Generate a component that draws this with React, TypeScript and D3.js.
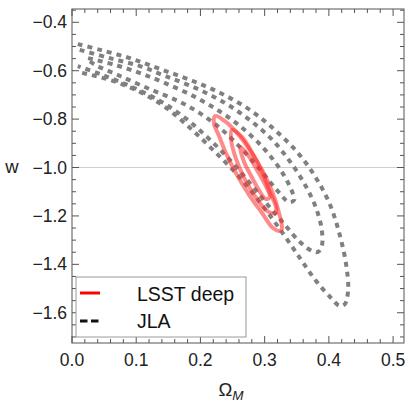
import React from "react";
import * as d3 from "d3";

type P = [number, number];

// JLA contours (open at left edge), ordered upper edge -> tip -> lower edge
const jla3: P[] = [
  [0.009,-0.490],[0.044,-0.514],[0.090,-0.548],[0.137,-0.593],[0.184,-0.638],[0.231,-0.692],[0.277,-0.762],[0.316,-0.845],[0.352,-0.940],[0.380,-1.043],[0.402,-1.155],[0.417,-1.279],[0.427,-1.403],[0.430,-1.506],[0.425,-1.564],
  [0.417,-1.572],[0.402,-1.535],[0.379,-1.465],[0.355,-1.374],[0.327,-1.267],[0.296,-1.155],[0.262,-1.043],[0.223,-0.936],[0.184,-0.837],[0.145,-0.750],[0.106,-0.688],[0.059,-0.638],[0.009,-0.605],
];
const jla2: P[] = [
  [0.012,-0.514],[0.059,-0.548],[0.106,-0.581],[0.145,-0.622],[0.192,-0.671],[0.238,-0.733],[0.277,-0.804],[0.312,-0.886],[0.340,-0.977],[0.363,-1.072],[0.380,-1.167],[0.389,-1.258],[0.389,-1.324],[0.383,-1.349],
  [0.374,-1.345],[0.355,-1.308],[0.332,-1.238],[0.305,-1.155],[0.277,-1.064],[0.246,-0.969],[0.212,-0.878],[0.176,-0.795],[0.137,-0.725],[0.090,-0.663],[0.044,-0.614],[0.009,-0.581],
];
const jla1: P[] = [
  [0.025,-0.548],[0.067,-0.576],[0.106,-0.610],[0.145,-0.651],[0.192,-0.709],[0.234,-0.775],[0.269,-0.845],[0.301,-0.928],[0.327,-1.019],[0.343,-1.101],[0.346,-1.134],
  [0.338,-1.143],[0.319,-1.093],[0.296,-1.019],[0.266,-0.928],[0.234,-0.845],[0.199,-0.775],[0.165,-0.725],[0.121,-0.676],[0.075,-0.622],[0.036,-0.576],[0.025,-0.556],
];

// LSST deep contours (closed)
const lsst3: P[] = [
  [0.223,-0.787],[0.238,-0.808],[0.257,-0.857],[0.277,-0.928],[0.296,-1.010],[0.312,-1.101],[0.322,-1.184],[0.327,-1.250],[0.324,-1.262],[0.313,-1.250],[0.296,-1.188],[0.276,-1.114],[0.257,-1.031],[0.241,-0.948],[0.229,-0.870],[0.221,-0.816],
];
const lsst2: P[] = [
  [0.249,-0.845],[0.265,-0.874],[0.280,-0.936],[0.296,-1.019],[0.308,-1.101],[0.318,-1.167],[0.316,-1.188],[0.304,-1.180],[0.285,-1.118],[0.268,-1.043],[0.255,-0.961],[0.248,-0.890],
];
const lsst1: P[] = [
  [0.262,-0.915],[0.274,-0.948],[0.288,-1.010],[0.301,-1.072],[0.308,-1.122],[0.302,-1.130],[0.291,-1.093],[0.279,-1.035],[0.268,-0.977],
];

const xTicks = [0.0, 0.1, 0.2, 0.3, 0.4, 0.5];
const yTicks = [-0.4, -0.6, -0.8, -1.0, -1.2, -1.4, -1.6];
const legendLabels = ["LSST deep", "JLA"];
const refW = -1.0;

const W = 407, H = 407;
const L = 72, R = 404, T = 9, B = 343;
const FONT = "'Liberation Sans', Arial, sans-serif";

export default function App() {
  const x = d3.scaleLinear().domain([0, 0.517]).range([L, R]);
  const y = d3.scaleLinear().domain([-0.345, -1.725]).range([T, B]);

  const openLine = d3.line<P>().x(d => x(d[0])).y(d => y(d[1])).curve(d3.curveCatmullRom);
  const closedLine = d3.line<P>().x(d => x(d[0])).y(d => y(d[1])).curve(d3.curveCatmullRomClosed);

  const xMinor = d3.range(0, 0.5171, 0.02);
  const yMinor = d3.range(-0.35, -1.7251, -0.05);
  const fmt = (v: number) => (v < 0 ? "\u2212" : "") + Math.abs(v).toFixed(1);
  const frameColor = "#555";

  return (
    <svg width={W} height={H} style={{ position: "absolute", left: 0, top: 0, background: "#fff" }}>
      <defs>
        <clipPath id="plotclip">
          <rect x={L} y={T} width={R - L} height={B - T} />
        </clipPath>
      </defs>
      {/* reference line */}
      <line x1={L} x2={R} y1={y(refW)} y2={y(refW)} stroke="#cfcfcf" strokeWidth={1} />
      <g clipPath="url(#plotclip)">
        {[jla3, jla2, jla1].map((c, i) => (
          <path key={"j" + i} d={openLine(c) || ""} fill="none" stroke="#808080" strokeWidth={4} strokeDasharray="5 5" />
        ))}
        {[lsst3, lsst2, lsst1].map((c, i) => (
          <path key={"l" + i} d={closedLine(c) || ""} fill="none" stroke="#ff2a2a" strokeOpacity={0.55} strokeWidth={4} />
        ))}
      </g>
      {/* frame */}
      <rect x={L} y={T} width={R - L} height={B - T} fill="none" stroke={frameColor} strokeWidth={1} />
      {xMinor.map((v, i) => {
        const major = Math.abs(Math.round(v * 10) - v * 10) < 1e-6;
        const len = major ? 7 : 4;
        return (
          <g key={"xt" + i} stroke={frameColor} strokeWidth={1}>
            <line x1={x(v)} x2={x(v)} y1={B} y2={B - len} />
            <line x1={x(v)} x2={x(v)} y1={T} y2={T + len} />
          </g>
        );
      })}
      {yMinor.map((v, i) => {
        const major = Math.abs(Math.round(v * 5) - v * 5) < 1e-6;
        const len = major ? 7 : 4;
        return (
          <g key={"yt" + i} stroke={frameColor} strokeWidth={1}>
            <line x1={L} x2={L + len} y1={y(v)} y2={y(v)} />
            <line x1={R} x2={R - len} y1={y(v)} y2={y(v)} />
          </g>
        );
      })}
      {xTicks.map((v, i) => (
        <text key={"xl" + i} x={x(v)} y={366} textAnchor="middle" fontFamily={FONT} fontSize={17.5} fill="#222">
          {v.toFixed(1)}
        </text>
      ))}
      {yTicks.map((v, i) => (
        <text key={"yl" + i} x={67} y={y(v) + 6} textAnchor="end" fontFamily={FONT} fontSize={17.5} fill="#222">
          {fmt(v)}
        </text>
      ))}
      <text x={12} y={173} textAnchor="middle" fontFamily={FONT} fontSize={18.5} fill="#222">w</text>
      <text x={231} y={396} textAnchor="middle" fontFamily={FONT} fontSize={18.5} fill="#222">
        Ω<tspan fontSize={13.5} fontStyle="italic" dy={4}>M</tspan>
      </text>
      {/* legend */}
      <rect x={76} y={277} width={170} height={60} fill="#fff" stroke="#999" strokeWidth={1} />
      <line x1={80} x2={100} y1={293} y2={293} stroke="#ff0000" strokeWidth={3} />
      <line x1={80} x2={100} y1={321} y2={321} stroke="#111" strokeWidth={3} strokeDasharray="7.5 3.5" />
      <text x={137} y={301} fontFamily={FONT} fontSize={19.5} fill="#111">{legendLabels[0]}</text>
      <text x={137} y={328} fontFamily={FONT} fontSize={19.5} fill="#111">{legendLabels[1]}</text>
    </svg>
  );
}
